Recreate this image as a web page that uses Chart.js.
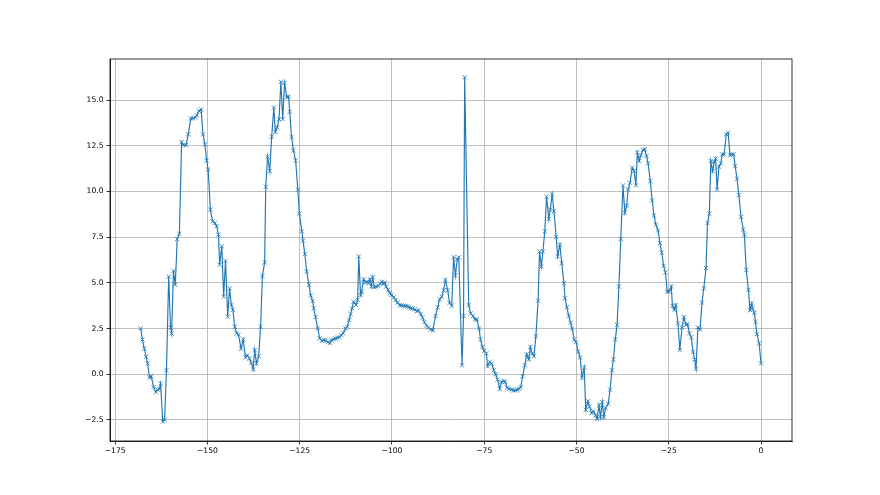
<!DOCTYPE html>
<html>
<head>
<meta charset="utf-8">
<script src="https://cdn.jsdelivr.net/npm/chart.js@4.4.0/dist/chart.umd.min.js"></script>
<style>
  html, body { margin: 0; padding: 0; background: #fff; }
  #wrap { width: 880px; height: 495px; }
</style>
</head>
<body>
<div id="wrap"><canvas id="lineChart" width="880" height="495"></canvas></div>
<script>
// values
const xValues = [
  -168.1, -167.6, -167.1, -166.6, -166.2, -165.7, -165.2, -164.6, -164.0, -163.5,
  -163.0, -162.7, -162.1, -161.6, -161.1, -160.5, -160.0, -159.7, -159.2, -158.7,
  -158.2, -157.6, -157.0, -156.5, -155.8, -155.2, -154.5, -153.9, -153.3, -152.9,
  -152.3, -151.7, -151.2, -150.7, -150.2, -149.8, -149.2, -148.6, -148.0, -147.5,
  -147.0, -146.7, -146.1, -145.6, -145.1, -144.5, -144.0, -143.5, -143.1, -142.6,
  -142.1, -141.6, -140.9, -140.3, -139.7, -139.2, -138.6, -138.1, -137.6, -137.2,
  -136.7, -136.1, -135.6, -135.1, -134.5, -134.2, -133.7, -133.1, -132.6, -132.0,
  -131.6, -131.1, -130.6, -130.1, -129.6, -129.1, -128.5, -128.0, -127.7, -127.2,
  -126.7, -126.1, -125.5, -125.1, -124.4, -124.1, -123.6, -123.1, -122.5, -122.0,
  -121.5, -121.2, -120.7, -120.1, -119.6, -119.0, -118.5, -117.9, -117.4, -116.8,
  -116.4, -115.8, -115.3, -114.8, -114.2, -113.7, -113.2, -112.6, -112.1, -111.6,
  -111.2, -110.8, -110.4, -109.7, -109.3, -109.0, -108.5, -108.2, -107.7, -107.2,
  -106.8, -106.4, -106.0, -105.6, -105.2, -104.8, -104.3, -103.7, -103.2, -102.7,
  -102.4, -101.9, -101.6, -101.0, -100.6, -100.1, -99.5, -99.0, -98.5, -97.9,
  -97.4, -96.9, -96.3, -95.8, -95.4, -94.9, -94.4, -93.8, -93.3, -92.8,
  -92.2, -91.7, -91.2, -90.6, -90.1, -89.5, -88.9, -88.2, -87.6, -87.1,
  -86.5, -86.0, -85.5, -84.9, -84.4, -83.8, -83.3, -82.8, -82.3, -81.9,
  -81.0, -80.6, -80.3, -79.2, -78.7, -78.0, -77.5, -77.0, -76.4, -76.0,
  -75.5, -75.0, -74.4, -74.1, -73.5, -73.0, -72.4, -71.9, -71.4, -70.8,
  -70.3, -69.7, -69.3, -68.8, -68.3, -67.6, -67.1, -66.5, -66.0, -65.5,
  -65.1, -64.6, -64.0, -63.5, -62.9, -62.5, -62.0, -61.5, -61.0, -60.4,
  -60.0, -59.5, -59.1, -58.6, -58.1, -57.5, -57.1, -56.6, -56.1, -55.5,
  -55.1, -54.5, -54.0, -53.4, -53.1, -52.6, -52.1, -51.6, -51.2, -50.6,
  -50.1, -49.5, -49.0, -48.5, -47.9, -47.5, -46.9, -46.5, -45.9, -45.4,
  -44.8, -44.4, -43.9, -43.5, -43.0, -42.6, -42.1, -41.4, -40.9, -40.4,
  -40.0, -39.5, -39.0, -38.5, -38.0, -37.4, -36.9, -36.4, -36.0, -35.5,
  -34.9, -34.4, -33.9, -33.5, -33.0, -32.6, -32.0, -31.5, -31.0, -30.6,
  -30.0, -29.5, -29.0, -28.5, -27.9, -27.4, -26.9, -26.4, -25.9, -25.4,
  -24.9, -24.3, -24.0, -23.5, -23.1, -22.5, -22.0, -21.4, -20.9, -20.3,
  -19.9, -19.4, -18.9, -18.4, -18.0, -17.6, -17.1, -16.5, -16.0, -15.5,
  -14.9, -14.5, -14.0, -13.6, -13.1, -12.7, -12.3, -11.9, -11.4, -10.9,
  -10.5, -10.0, -9.4, -8.9, -8.4, -7.9, -7.4, -7.0, -6.5, -6.0,
  -5.4, -4.8, -4.5, -4.0, -3.4, -3.0, -2.5, -2.3, -1.8, -1.5,
  -1.1, -0.5, 0.0
];

const yValues = [
  2.51, 1.9, 1.41, 0.95, 0.59, -0.18, -0.11, -0.7, -0.97, -0.84,
  -0.8, -0.51, -2.58, -2.49, 0.22, 5.35, 2.56, 2.23, 5.66, 4.89,
  7.4, 7.69, 12.7, 12.54, 12.53, 13.13, 14.0, 14.0, 14.05, 14.16,
  14.41, 14.49, 13.13, 12.58, 11.7, 11.2, 9.01, 8.37, 8.28, 8.1,
  7.64, 5.99, 7.0, 4.25, 6.21, 3.15, 4.7, 3.79, 3.52, 2.6,
  2.24, 2.18, 1.41, 1.9, 0.92, 1.04, 0.86, 0.62, 0.26, 1.32,
  0.59, 0.99, 2.6, 5.38, 6.12, 10.26, 11.9, 11.12, 13.0, 14.6,
  13.26, 13.5, 13.96, 16.0, 13.96, 15.93, 15.15, 15.2, 14.36, 12.98,
  12.25, 11.7, 10.1, 8.79, 7.82, 7.31, 6.58, 5.62, 4.89, 4.3,
  4.01, 3.61, 3.13, 2.51, 1.96, 1.83, 1.87, 1.85, 1.77, 1.7,
  1.87, 1.92, 1.96, 2.0, 2.03, 2.14, 2.24, 2.51, 2.6, 2.97,
  3.3, 3.61, 3.97, 3.79, 4.07, 6.45, 4.34, 4.52, 5.2, 5.02,
  5.07, 4.98, 5.2, 4.8, 5.31, 4.76, 4.8, 4.84, 4.95, 5.07,
  4.95, 5.02, 4.8, 4.62, 4.43, 4.34, 4.21, 4.07, 3.92, 3.77,
  3.77, 3.75, 3.74, 3.72, 3.66, 3.62, 3.6, 3.55, 3.45, 3.5,
  3.3, 3.1, 2.85, 2.65, 2.55, 2.45, 2.4, 3.19, 3.66, 4.1,
  4.25, 4.6, 5.16, 4.6, 3.9, 3.75, 6.41, 5.4, 6.3, 6.4,
  0.49, 3.2, 16.25, 3.79, 3.33, 3.19, 3.0, 3.0, 2.51, 1.9,
  1.5, 1.28, 1.14, 0.44, 0.68, 0.59, 0.22, 0.0, -0.29, -0.8,
  -0.42, -0.37, -0.42, -0.73, -0.79, -0.84, -0.88, -0.88, -0.84, -0.79,
  -0.7, -0.11, 0.49, 1.1, 0.81, 1.5, 1.14, 0.99, 2.09, 4.03,
  6.72, 5.9, 6.72, 7.82, 9.71, 8.5, 9.01, 9.84, 8.92, 7.51,
  6.45, 7.09, 6.08, 4.98, 4.16, 3.66, 3.19, 2.82, 2.51, 1.9,
  1.75, 1.23, 0.92, -0.18, 0.37, -1.94, -1.47, -1.76, -2.13, -2.02,
  -2.25, -2.44, -1.7, -2.34, -1.52, -2.34, -1.83, -1.61, -0.84, 0.22,
  0.81, 1.9, 2.69, 4.8, 7.4, 10.33, 8.83, 9.23, 10.11, 10.48,
  11.3, 11.12, 10.33, 12.13, 11.67, 11.98, 12.27, 12.31, 11.94, 11.54,
  10.57, 9.52, 8.68, 8.19, 7.87, 7.18, 6.66, 5.93, 5.57, 4.52,
  4.52, 4.8, 3.74, 3.52, 3.79, 2.78, 1.32, 2.56, 3.12, 2.69,
  2.75, 2.24, 2.02, 1.23, 0.81, 0.31, 2.56, 2.45, 3.92, 4.71,
  5.81, 8.28, 8.79, 11.67, 11.12, 11.61, 11.8, 10.11, 11.36, 11.54,
  12.03, 12.03, 13.13, 13.22, 11.98, 12.03, 12.03, 11.39, 10.7, 9.81,
  8.61, 7.91, 7.64, 5.71, 4.62, 3.52, 3.88, 3.61, 3.37, 2.87,
  2.2, 1.69, 0.59
];

const xTicks = [-175, -150, -125, -100, -75, -50, -25, 0];
const yTicks = [-2.5, 0.0, 2.5, 5.0, 7.5, 10.0, 12.5, 15.0];

function minusSign(s) {
    return s.replace('-', '\u2212');
}

// draws the box round the plot, like matplotlib spines
const frameBox = {
    id: 'frameBox',
    afterDraw(chart) {
        const a = chart.chartArea;
        const ctx = chart.ctx;
        ctx.save();
        ctx.strokeStyle = '#000';
        ctx.lineWidth = 0.8;
        ctx.strokeRect(a.left, a.top, a.right - a.left, a.bottom - a.top);
        ctx.restore();
    }
};

document.addEventListener('DOMContentLoaded', function() {
    const ctx = document.getElementById('lineChart');
    const points = xValues.map((x, i) => ({ x: x, y: yValues[i] }));

    new Chart(ctx, {
        type: 'scatter',
        data: {
            datasets: [{
                data: points,
                showLine: true,
                borderColor: '#1f77b4',
                borderWidth: 1.15,
                pointStyle: 'crossRot',
                pointRadius: 3,
                pointBorderWidth: 0.8,
                pointBorderColor: '#1f77b4',
                pointBackgroundColor: '#1f77b4',
                tension: 0
            }]
        },
        options: {
            responsive: false,
            animation: false,
            events: [],
            layout: {
                padding: { left: 70, right: 88, top: 59, bottom: 24 }
            },
            plugins: {
                legend: { display: false },
                tooltip: { enabled: false }
            },
            scales: {
                x: {
                    type: 'linear',
                    min: -176.4,
                    max: 8.4,
                    afterFit: function(scale) { scale.height = 30; },
                    afterBuildTicks: function(scale) {
                        scale.ticks = xTicks.map(v => ({ value: v }));
                    },
                    grid: {
                        color: '#b0b0b0',
                        lineWidth: 0.8,
                        tickColor: '#000',
                        tickLength: 3.5,
                        drawOnChartArea: true
                    },
                    border: { color: '#000', width: 0.8 },
                    ticks: {
                        color: '#000',
                        padding: 2,
                        maxRotation: 0,
                        autoSkip: false,
                        font: { family: 'DejaVu Sans', size: 7.6 },
                        callback: function(v) { return minusSign(String(v)); }
                    }
                },
                y: {
                    type: 'linear',
                    min: -3.65,
                    max: 17.25,
                    afterFit: function(scale) { scale.width = 40; },
                    afterBuildTicks: function(scale) {
                        scale.ticks = yTicks.map(v => ({ value: v }));
                    },
                    grid: {
                        color: '#b0b0b0',
                        lineWidth: 0.8,
                        tickColor: '#000',
                        tickLength: 3.5
                    },
                    border: { color: '#000', width: 0.8 },
                    ticks: {
                        color: '#000',
                        padding: 3,
                        autoSkip: false,
                        font: { family: 'DejaVu Sans', size: 7.6 },
                        callback: function(v) { return minusSign(Number(v).toFixed(1)); }
                    }
                }
            }
        },
        plugins: [frameBox]
    });
});
</script>
</body>
</html>
